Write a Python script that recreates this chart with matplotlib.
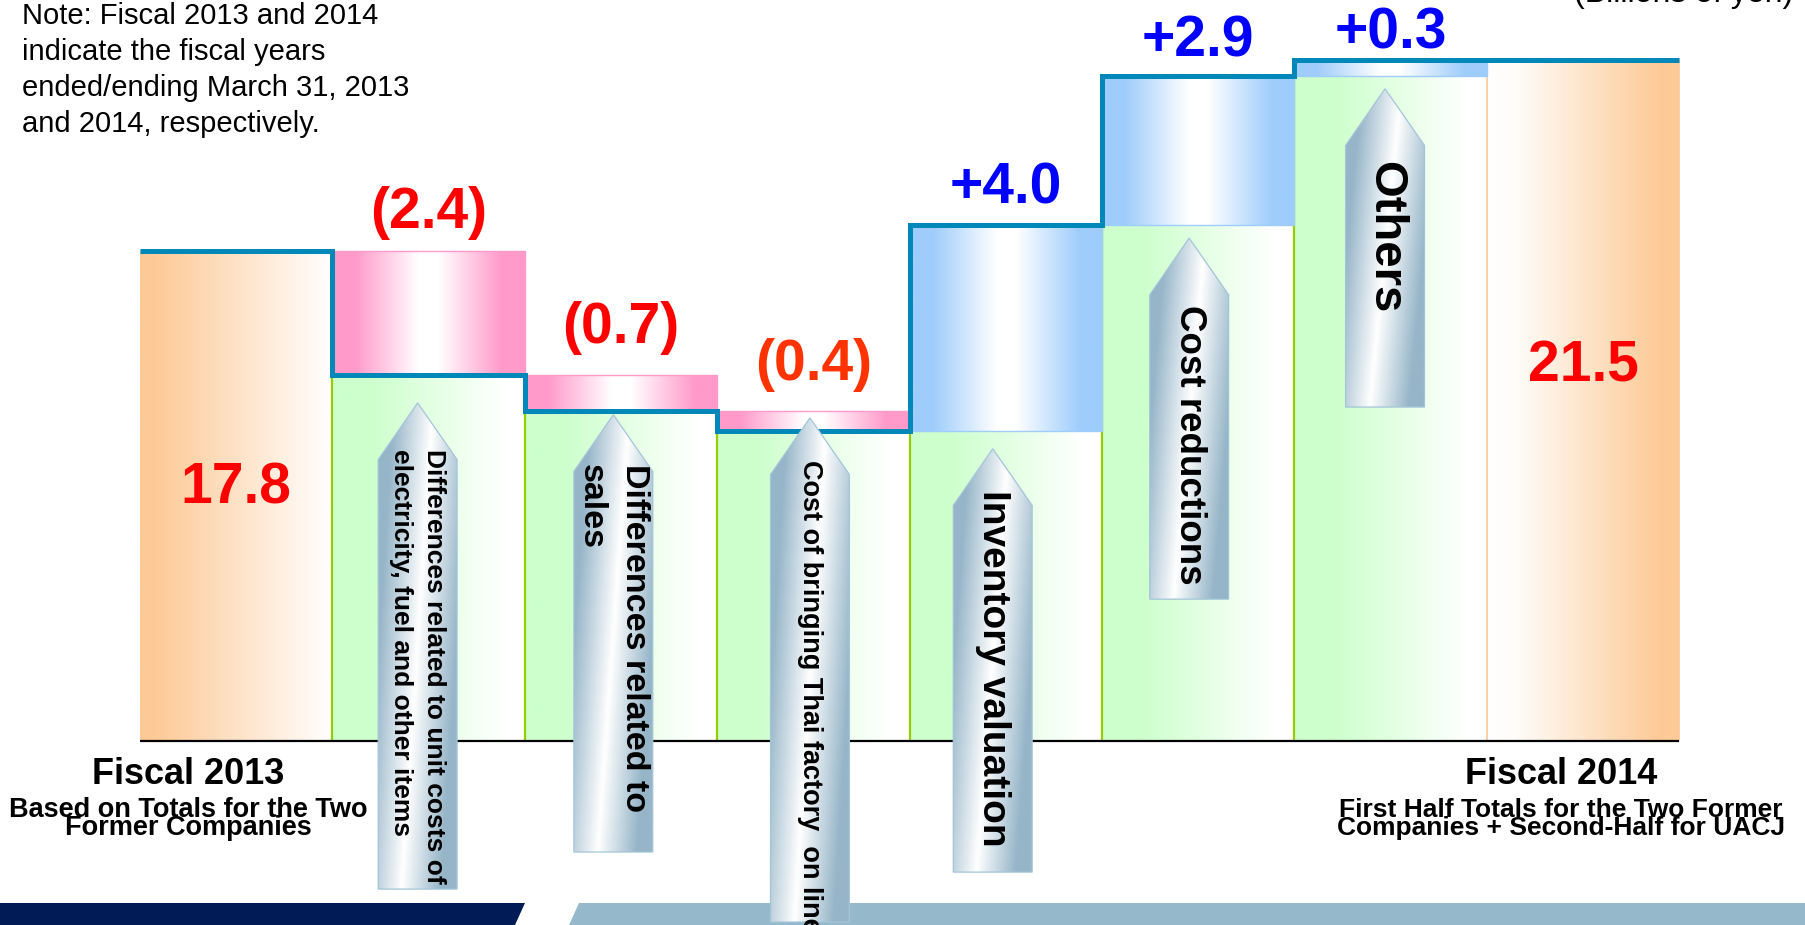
import numpy as np
import matplotlib
matplotlib.use("Agg")
import matplotlib.pyplot as plt
from matplotlib.colors import LinearSegmentedColormap
from matplotlib.patches import Polygon

plt.rcParams["font.family"] = ["Liberation Sans", "DejaVu Sans"]

# ---- data (billions of yen) ----
start_value = 17.8
end_value = 21.5
changes = [-2.4, -0.7, -0.4, 4.0, 2.9, 0.3]
change_names = [
    "Differences related to unit costs of\nelectricity, fuel and other items",
    "Differences related to\nsales",
    "Cost of bringing Thai factory  on line",
    "Inventory valuation",
    "Cost reductions",
    "Others",
]
total_names = ["Fiscal 2013", "Fiscal 2014"]
total_notes = [
    ["Based on Totals for the Two", "Former Companies"],
    ["First Half Totals for the Two Former", "Companies + Second-Half for UACJ"],
]
note_text = ("Note: Fiscal 2013 and 2014\nindicate the fiscal years\n"
             "ended/ending March 31, 2013\nand 2014, respectively.")
unit_text = "(Billions of yen)"

# ---- layout / style ----
W, H = 1806, 925
BASE = 8.285                      # value sitting on the black baseline
XLIM = (-1.2277, 8.159)
YLIM = (4.713, 22.674)
LINE_BLUE = "#0088B8"
ORANGE = "#FDCA97"
PINK = "#FF9ACB"
SKY = "#9FCDFB"
label_colors = ["#FF0000", "#FF0000", "#FF3300", "#0000FF", "#0000FF", "#0000FF"]
label_gap = [0.45, 0.61, 0.60, 0.43, 0.37, 0.24]
total_label_y = [12.89, 15.26]

# arrows: x offset from column centre, width, tip, bottom, text start, font size
arrow_dx = [-0.057, -0.04, -0.018, -0.068, -0.047, -0.029]
arrow_w = 0.41
arrow_head = 1.1
arrow_tip = [14.85, 14.62, 14.56, 13.96, 18.05, 20.95]
arrow_bottom = [5.41, 6.13, 4.77, 5.74, 11.04, 14.77]
arrow_text_top = [13.96, 13.66, 13.74, 13.16, 16.75, 19.55]
arrow_font = [19, 24.5, 19.5, 28, 26.5, 34]


def fx(px):
    return px / W


def fy(py):
    return 1 - py / H


def rect(x0, x1, y0, y1):
    return [(x0, y0), (x1, y0), (x1, y1), (x0, y1)]


def gradient(ax, verts, stops, zorder, edge="none", lw=0.0, skew=0.0):
    """fill a polygon with a left-to-right colour ramp (optionally skewed)"""
    verts = np.asarray(verts, dtype=float)
    x0, y0 = verts.min(axis=0)
    x1, y1 = verts.max(axis=0)
    X, Y = np.meshgrid(np.linspace(0, 1, 256), np.linspace(0, 1, 128))
    T = np.clip(X - skew * (Y - 0.5), 0, 1)
    cmap = LinearSegmentedColormap.from_list("g", stops)
    im = ax.imshow(T, cmap=cmap, vmin=0, vmax=1, extent=(x0, x1, y0, y1),
                   origin="lower", aspect="auto", zorder=zorder,
                   interpolation="bilinear")
    poly = Polygon(verts, closed=True, facecolor="none", edgecolor=edge,
                   lw=lw, zorder=zorder + 0.01)
    ax.add_patch(poly)
    im.set_clip_path(poly)


fig = plt.figure(figsize=(W / 100, H / 100), dpi=100)
ax = fig.add_axes([0, 0, 1, 1])
ax.axis("off")

levels = np.concatenate([[start_value], start_value + np.cumsum(changes)])
step_levels = np.append(levels, end_value)
edges = np.arange(len(step_levels) + 1) - 0.5

# bottom decoration band
ax.add_patch(Polygon([(fx(0), fy(903)), (fx(525), fy(903)), (fx(515), fy(925)), (fx(0), fy(925))],
                     transform=fig.transFigure, facecolor="#001B55", edgecolor="none", zorder=0.5))
ax.add_patch(Polygon([(fx(579), fy(903)), (fx(1806), fy(903)), (fx(1806), fy(925)), (fx(569), fy(925))],
                     transform=fig.transFigure, facecolor="#95B9CB", edgecolor="none", zorder=0.5))

# total bars
gradient(ax, rect(-0.5, 0.5, BASE, start_value),
         [(0, ORANGE), (0.08, ORANGE), (1, "white")], zorder=1)
last = len(step_levels) - 1
gradient(ax, rect(last - 0.5, last + 0.5, BASE, end_value),
         [(0, "white"), (0.15, "#FFFCF9"), (0.9, ORANGE), (1, ORANGE)],
         zorder=1, edge="#FCC898", lw=1.2)

# change columns
for i, ch in enumerate(changes):
    col = i + 1
    prev, cur = levels[i], levels[i + 1]
    lo, hi = min(prev, cur), max(prev, cur)
    gradient(ax, rect(col - 0.5, col + 0.5, BASE, lo),
             [(0, "#CCFFCC"), (0.2, "#CCFFCC"), (0.9, "white"), (1, "white")], zorder=1)
    ax.vlines(col - 0.5, BASE, lo, color="#99CC00", lw=1.6, zorder=1.5)
    c = PINK if ch < 0 else SKY
    gradient(ax, rect(col - 0.5, col + 0.5, lo, hi),
             [(0, c), (0.12, c), (0.45, "white"), (0.55, "white"), (0.88, c), (1, c)],
             zorder=2, edge=c, lw=1.0)
    txt = f"({abs(ch):.1f})" if ch < 0 else f"+{ch:.1f}"
    ax.text(col, hi + label_gap[i], txt, ha="center", va="baseline", fontsize=41,
            fontweight="bold", color=label_colors[i], zorder=6)

# baseline and running-total line
ax.hlines(BASE, -0.5, last + 0.5, color="black", lw=1.6, zorder=3)
ax.stairs(step_levels, edges, baseline=None, color=LINE_BLUE, lw=3.6, zorder=4)

# total value labels
for col, val, y in zip([0, last], [start_value, end_value], total_label_y):
    ax.text(col, y, f"{val:.1f}", ha="center", va="baseline", fontsize=41,
            fontweight="bold", color="#FF0000", zorder=6)

# arrow call-outs
for i, name in enumerate(change_names):
    cx = i + 1 + arrow_dx[i]
    l, r = cx - arrow_w / 2, cx + arrow_w / 2
    sh = arrow_tip[i] - arrow_head
    verts = [(l, arrow_bottom[i]), (r, arrow_bottom[i]), (r, sh), (cx, arrow_tip[i]), (l, sh)]
    gradient(ax, verts, [(0, "#96B5C8"), (0.5, "white"), (1, "#96B5C8")],
             zorder=5, edge="#A3C5D8", lw=0.9, skew=0.4)
    ax.text(cx, arrow_text_top[i], name, rotation=-90, ha="center", va="top",
            multialignment="left", linespacing=1.5, fontsize=arrow_font[i],
            fontweight="bold", color="black", zorder=6)

ax.set_xlim(*XLIM)
ax.set_ylim(*YLIM)

# axis captions and notes
for name, lines, px, fs in zip(total_names, total_notes, [188, 1561], [19.5, 19]):
    fig.text(fx(px), fy(784), name, ha="center", va="baseline",
             fontsize=26, fontweight="bold")
    for line, py in zip(lines, [817, 835]):
        fig.text(fx(px), fy(py), line, ha="center", va="baseline",
                 fontsize=fs, fontweight="bold")

fig.text(fx(22), fy(2), note_text, ha="left", va="top", fontsize=21,
         linespacing=1.37)
fig.text(fx(1793), fy(2), unit_text, ha="right", va="baseline", fontsize=23)

fig.savefig("out.png", dpi=100)
